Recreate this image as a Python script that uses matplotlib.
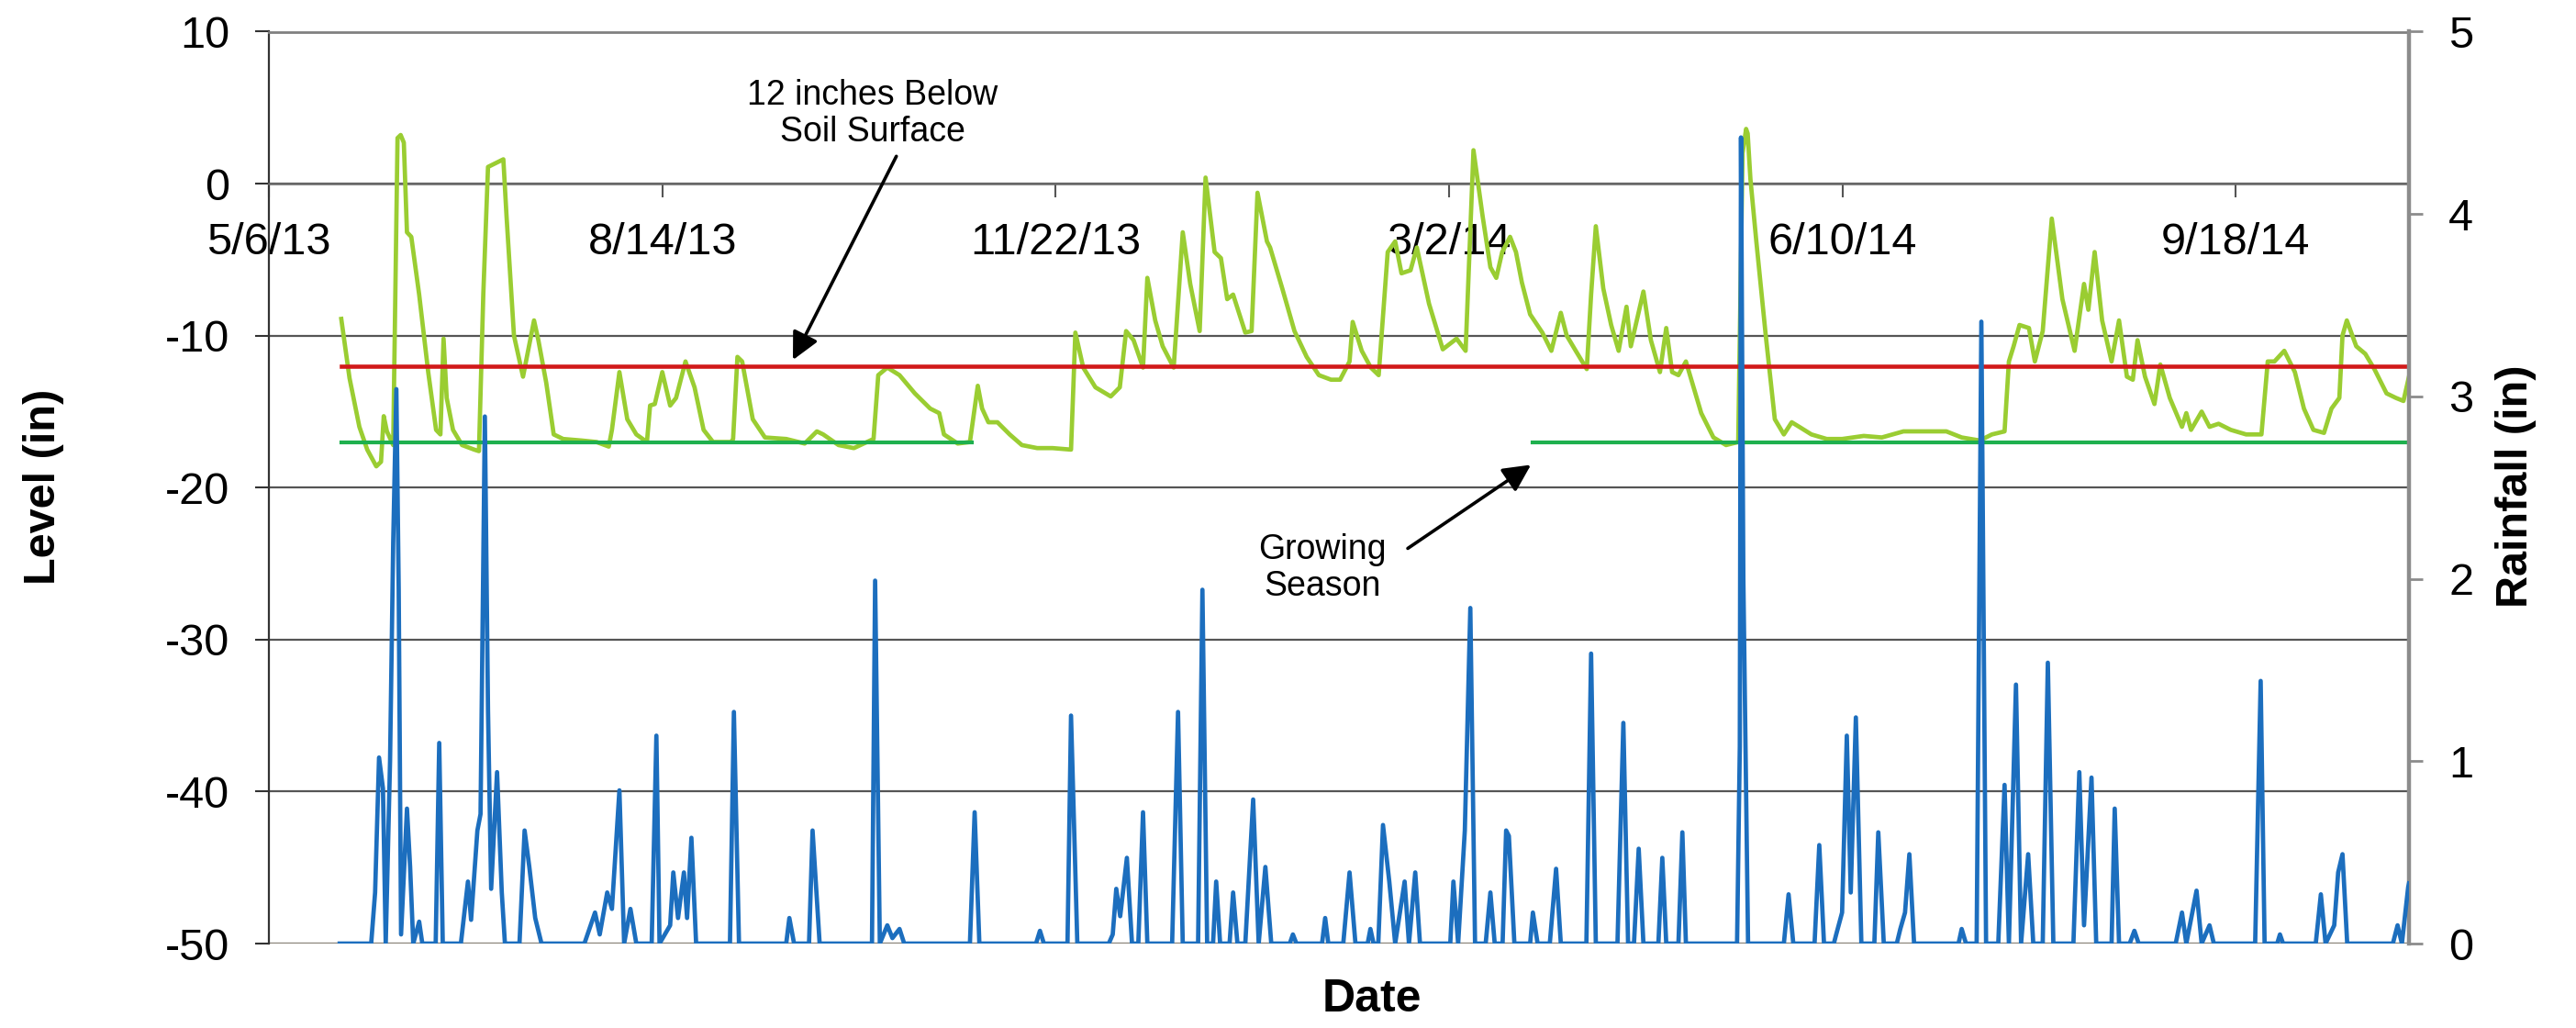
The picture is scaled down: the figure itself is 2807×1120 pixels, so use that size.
import matplotlib
matplotlib.use("Agg")
import matplotlib.pyplot as plt
import numpy as np
import pandas as pd

plt.rcParams['font.family'] = ['Liberation Sans', 'DejaVu Sans']
plt.rcParams['axes.unicode_minus'] = False

# ---------------- data ----------------
tick_labels = ["5/6/13", "8/14/13", "11/22/13", "3/2/14", "6/10/14", "9/18/14"]
x_end_offset = 544  # days after 5/6/13 where the axis ends

# water level (in), day offsets from 5/6/13
level_day = [18.4, 20.5, 23, 25, 27.3, 28.5, 29.2, 30, 31.6, 32.7, 33.5, 34.3, 35.1, 36.2,
             38.2, 40.5, 42.5, 43.6, 44.4, 45.2, 46.8, 49.1, 52.2, 53.4, 54.5, 55.7, 59.6,
             60.4, 62.3, 64.6, 67.4, 68.5, 70.5, 72.4, 74.8, 79.4, 83.3, 86.4, 87.2, 89.1,
             91.1, 93.4, 96.1, 96.9, 98.1, 100, 102, 103.5, 105.9, 108.2, 110.5, 112.9,
             117.5, 118, 119.1, 120.3, 123, 126.1, 131.5, 136.2, 139.3, 140.9, 144.8, 148.7,
             153.7, 154.9, 157.2, 160.3, 164.2, 168.1, 170.4, 171.6, 175.1, 178.2, 180.2,
             181.3, 182.9, 185.2, 188.3, 191.4, 195.3, 199.2, 203.9, 205, 207, 210.1, 214,
             216.3, 217.9, 219.8, 222.2, 223.3, 225.3, 227.2, 230, 232.3, 234.2, 236.6,
             238.1, 240.4, 242, 243.6, 245.1, 248.2, 249.8, 251.3, 253.7, 254.5, 257.6,
             260.7, 263.8, 266.9, 270, 272.3, 274.7, 275.5, 277.8, 280.1, 282.1, 284.4,
             286.3, 287.9, 290.2, 291.8, 294.9, 298.4, 301.9, 304.2, 306.2, 308.5, 310.5,
             312, 313.5, 315.5, 317, 318.5, 320.6, 323.7, 326, 328.4, 329.9, 332.2, 335,
             336.1, 337.3, 339.2, 341.2, 343.1, 345.1, 346.2, 349.4, 351.3, 353.6, 355.2,
             356.7, 358.3, 360.2, 364.1, 367.2, 370.4, 373.5, 374.6, 375.5, 375.9, 376.6,
             378.1, 380.5, 382.8, 385.1, 387.1, 389, 392.1, 396, 399.9, 405.4, 410, 415.5,
             419.4, 426.4, 430.3, 434.9, 438, 441.2, 442.3, 443.5, 445, 447.4, 448.9, 450.9,
             453.2, 455.9, 459, 461.4, 462.5, 464.1, 466, 468.4, 470.3, 472.3, 473.8, 475,
             476.9, 479.3, 480.8, 483.2, 486.3, 487.4, 488.6, 491.3, 493.3, 495.6, 498.7,
             502.6, 506.5, 508.1, 509.8, 512.3, 515, 517.3, 519.7, 522.4, 524.3, 526.3,
             527.1, 528.2, 530.6, 532.9, 535.2, 538.3, 540.7, 542.6, 544]
level_in = [-8.9, -12.8, -16, -17.5, -18.6, -18.3, -15.3, -16.3, -17.2, 3.0, 3.2, 2.7, -3.2, -3.5,
            -7.3, -12.4, -16.2, -16.5, -10.2, -14.1, -16.2, -17.2, -17.5, -17.6, -7.3, 1.1, 1.6,
            -2.1, -10, -12.7, -9.0, -10.3, -13.1, -16.5, -16.8, -16.9, -17.0, -17.3, -16.2, -12.4,
            -15.5, -16.5, -17.0, -14.6, -14.5, -12.4, -14.6, -14.1, -11.7, -13.4, -16.2, -17.0,
            -17.0, -16.8, -11.4, -11.7, -15.5, -16.7, -16.8, -17.1, -16.3, -16.5, -17.2, -17.4,
            -16.8, -12.6, -12.1, -12.6, -13.8, -14.8, -15.1, -16.5, -17.1, -17.0, -13.3,
            -14.8, -15.7, -15.7, -16.5, -17.2, -17.4, -17.4, -17.5, -9.8, -12.1, -13.4, -14.0,
            -13.4, -9.7, -10.3, -12.1, -6.2, -9.0, -10.7, -12.1, -3.2, -6.6, -9.7,
            0.4, -4.5, -4.9, -7.6, -7.3, -9.8, -9.7, -0.6, -3.8, -4.2, -6.9,
            -9.7, -11.4, -12.6, -12.9, -12.9, -11.7, -9.1, -11.0, -12.1, -12.6, -4.5,
            -3.8, -5.9, -5.7, -4.2, -7.9, -10.9, -10.2, -11.0, 2.2, -2.1, -5.5,
            -6.2, -4.5, -3.5, -4.5, -6.5, -8.6, -9.8, -11.0, -8.5, -10, -11.0, -12.2,
            -7.3, -2.8, -6.9, -9.3, -11.0, -8.1, -10.7, -7.1, -10.3, -12.4, -9.5,
            -12.4, -12.6, -11.7, -15.1, -16.7, -17.2, -17.0, 2.0, 3.6, 3.3, 0.3,
            -3.8, -10, -15.5, -16.5, -15.7, -16, -16.5, -16.8, -16.8, -16.6, -16.7, -16.3,
            -16.3, -16.3, -16.7, -16.9, -16.5, -16.3, -11.7, -10.7, -9.3, -9.5, -11.7, -9.7,
            -2.3, -7.6, -11.0, -6.6, -8.3, -4.5, -9.0, -11.7, -9.0, -12.7, -12.9, -10.3,
            -12.7, -14.5, -11.9, -14.1, -16.0, -15.1, -16.2, -15.0, -16.0, -15.8, -16.2,
            -16.5, -16.5, -11.7, -11.7, -11.0, -12.4, -14.8, -16.2, -16.4, -14.8, -14.1,
            -10.0, -9.0, -10.7, -11.2, -12.2, -13.8, -14.1, -14.3, -12.7]

# daily rainfall (in), day offsets from 5/6/13
rain_day = [18, 26, 27, 28, 29, 29.7, 30.8, 31.6, 32.4, 33, 33.6, 35.1, 35.9, 36.7, 38.2, 39,
            42.4, 43.3, 44.2,
            48.8, 50.6, 51.4, 53, 53.8, 54.9, 55.7, 56.5, 58, 59.2, 60,
            63.7, 65, 66.2, 67.7, 69.3,
            80.2, 82.9, 84.1, 86, 87.2, 89.1, 90.3, 91.9, 93.4,
            97.3, 98.5, 99.3,
            102, 102.8, 104, 105.5, 106.3, 107.4, 108.6,
            117.2, 118.2, 119.5,
            131.5, 132.3, 133.5, 137.3, 138.2, 140,
            153.3, 154.1, 155.3, 157.2, 158.5, 160.3, 161.5,
            178.2, 179.4, 180.6,
            195, 196, 197,
            203, 203.9, 205.5,
            213.5, 214.5, 215.4, 216.4, 218.1, 219.4,
            221, 222.2, 223.3,
            229.6, 231.1, 232.3,
            236.2, 237.3, 238.5,
            240, 240.8, 241.8, 244.2, 245.1, 246.2,
            248.2, 250.2, 251.6, 253.3, 254.8,
            259.5, 260.3, 261.2,
            267.7, 268.5, 269.3,
            273.1, 274.7, 276.2,
            279.3, 280, 280.8,
            282, 283.2, 284.8, 286.3, 288.7, 289.8, 291.4, 292.6,
            300.3, 301.1, 302.3, 304, 305.4, 306.6,
            309.3, 310.5, 311.6,
            313.6, 314.5, 315.2, 316.6,
            320.6, 321.3, 322.5,
            325.6, 327.2, 328.4,
            334.9, 336.1, 337.3,
            342.8, 344.3, 345.5, 347, 348.2, 349.4,
            353.2, 354.2, 355.2,
            358.3, 359.3, 360.2,
            373.2, 373.9, 374.2, 374.8, 376,
            385.1, 386.3, 387.5,
            392.9, 394.1, 395.3,
            397.8, 398.4, 399.9, 401.1, 402.1, 403.4, 404.8,
            408.1, 409.1, 410.5,
            413.8, 414.7, 415.9, 417, 418.2,
            429.5, 430.3, 431.4,
            434.1, 435.3, 436.5,
            439.6, 441.2, 442.3, 444.1, 445.4, 447.2, 448.5,
            450.9, 452.2, 453.6,
            458.7, 460.2, 461.4, 463.3, 464.5,
            468.4, 469.2, 470.3,
            473, 474.2, 475.3,
            484.7, 486.3, 487.4, 490, 491.3, 493.3, 494.4,
            504.9, 506.3, 507.3,
            510.5, 511.2, 512,
            520.3, 521.6, 522.8, 525, 526, 527.1, 528.3,
            539.9, 541.1, 542.2, 543.8, 544]
rain_in = [0, 0, 0.28, 1.02, 0.85, 0, 1.0, 2.2, 3.04, 1.94, 0.05, 0.74, 0.42, 0, 0.12, 0,
           0, 1.1, 0,
           0, 0.34, 0.13, 0.62, 0.71, 2.89, 1.28, 0.3, 0.94, 0.28, 0,
           0, 0.62, 0.42, 0.14, 0,
           0, 0.17, 0.05, 0.28, 0.19, 0.84, 0, 0.19, 0,
           0, 1.14, 0,
           0.1, 0.39, 0.14, 0.39, 0.14, 0.58, 0,
           0, 1.27, 0,
           0, 0.14, 0, 0, 0.62, 0,
           0, 1.99, 0, 0.1, 0.03, 0.08, 0,
           0, 0.72, 0,
           0, 0.07, 0,
           0, 1.25, 0,
           0, 0.05, 0.3, 0.15, 0.47, 0,
           0, 0.72, 0,
           0, 1.27, 0,
           0, 1.94, 0,
           0, 0.34, 0, 0, 0.28, 0,
           0, 0.79, 0, 0.42, 0,
           0, 0.05, 0,
           0, 0.14, 0,
           0, 0.39, 0,
           0, 0.08, 0,
           0, 0.65, 0.34, 0, 0.34, 0, 0.39, 0,
           0, 0.34, 0, 0.62, 1.84, 0,
           0, 0.28, 0,
           0, 0.62, 0.59, 0,
           0, 0.17, 0,
           0, 0.41, 0,
           0, 1.59, 0,
           0, 1.21, 0, 0, 0.52, 0,
           0, 0.47, 0,
           0, 0.61, 0,
           0, 1.08, 4.42, 2.0, 0,
           0, 0.27, 0,
           0, 0.54, 0,
           0, 0.05, 0.17, 1.14, 0.28, 1.24, 0,
           0, 0.61, 0,
           0, 0.08, 0.17, 0.49, 0,
           0, 0.08, 0,
           0, 3.41, 0,
           0, 0.87, 0, 1.42, 0, 0.49, 0,
           0, 1.54, 0,
           0, 0.94, 0.1, 0.91, 0,
           0, 0.74, 0,
           0, 0.07, 0,
           0, 0.17, 0, 0.29, 0, 0.1, 0,
           0, 1.44, 0,
           0, 0.05, 0,
           0, 0.27, 0, 0.1, 0.39, 0.49, 0,
           0, 0.1, 0, 0.31, 0.33]

threshold_level = -12          # 12 inches below soil surface
threshold_span = (18.4, 544)
growing_level = -17
growing_spans = [(18.4, 178.6), (321.2, 544)]

# ---------------- helpers ----------------
tick_dates = pd.to_datetime(tick_labels, format="%m/%d/%y")
base = tick_dates[0]


def to_date(d):
    return base + pd.to_timedelta(np.asarray(d, dtype=float), unit="D")


W, H = 2807, 1120
fig = plt.figure(figsize=(W / 100, H / 100), dpi=100)
L, R, T, B = 293, 2625, 34.5, 1028
ax = fig.add_axes([L / W, 1 - B / H, (R - L) / W, (B - T) / H])

c_level = "#9ACD32"
c_red = "#D11A1A"
c_grow = "#1EB04E"
c_rain = "#1C6EBE"

ax.plot(to_date(level_day), level_in, color=c_level, lw=3.4, zorder=3,
        solid_joinstyle="round")
ax.plot(to_date(list(threshold_span)), [threshold_level] * 2, color=c_red, lw=3.3, zorder=4)
for s, e in growing_spans:
    ax.plot(to_date([s, e]), [growing_level] * 2, color=c_grow, lw=3.0, zorder=4)

ax.set_ylim(-50, 10)
ax.set_yticks(np.arange(-50, 11, 10))
ax.set_xlim(base, base + pd.Timedelta(days=x_end_offset))
ax.set_xticks(tick_dates)
ax.set_xticklabels(tick_labels)

ax.grid(axis="y", color="#555555", lw=1.6, zorder=0)
ax.grid(axis="x", visible=False)
ax.set_axisbelow(True)

ax.spines["bottom"].set_position(("data", 0))
ax.spines["bottom"].set_color("#6a6a6a")
ax.spines["bottom"].set_linewidth(1.8)
ax.spines["left"].set_color("#333333")
ax.spines["left"].set_linewidth(1.6)
ax.spines["top"].set_color("#808080")
ax.spines["top"].set_linewidth(2.0)
ax.spines["right"].set_visible(False)

ax.tick_params(axis="y", which="major", direction="out", length=11, width=1.5,
               color="#333333", labelsize=35, pad=20)
ax.tick_params(axis="x", which="major", direction="out", length=11, width=1.5,
               color="#555555", labelsize=35, pad=19)

# bottom boundary line at -50
ax.axhline(-50, color="#8a8378", lw=2.2, zorder=1)

ax2 = ax.twinx()
ax2.set_position(ax.get_position())
ax2.plot(to_date(rain_day), rain_in, color=c_rain, lw=3.4, zorder=5,
         solid_joinstyle="round")
ax2.set_ylim(0, 5)
ax2.set_yticks(np.arange(0, 6, 1))
for sp in ["left", "top", "bottom"]:
    ax2.spines[sp].set_visible(False)
ax2.spines["right"].set_color("#8c8c8c")
ax2.spines["right"].set_linewidth(3.2)
ax2.tick_params(axis="y", direction="out", length=11, width=2.0, color="#8c8c8c",
                labelsize=35, pad=20)

# annotations
ax.text(to_date(153.5), 4.6, "12 inches Below\nSoil Surface", ha="center", va="center",
        fontsize=27, linespacing=1.15, zorder=6)
ax.annotate("", xy=(to_date(133.2), -11.6), xytext=(to_date(159.5), 1.8),
            arrowprops=dict(arrowstyle="-|>", mutation_scale=45, lw=2.6, color="black",
                            shrinkA=0, shrinkB=0), zorder=6)
ax.text(to_date(267.7), -25.3, "Growing\nSeason", ha="center", va="center",
        fontsize=27, linespacing=1.15, zorder=6)
ax.annotate("", xy=(to_date(320.8), -18.5), xytext=(to_date(289.5), -24.0),
            arrowprops=dict(arrowstyle="-|>", mutation_scale=45, lw=2.6, color="black",
                            shrinkA=0, shrinkB=0), zorder=6)

fig.text(47 / W, 1 - 530 / H, "Level (in)", rotation=90, ha="center", va="center",
         fontsize=35, fontweight="bold")
fig.text(2741 / W, 1 - 530 / H, "Rainfall (in)", rotation=90, ha="center", va="center",
         fontsize=35, fontweight="bold")
fig.text(1495 / W, 1 - 1089 / H, "Date", ha="center", va="center",
         fontsize=36, fontweight="bold")

fig.savefig("out.png", dpi=100)
